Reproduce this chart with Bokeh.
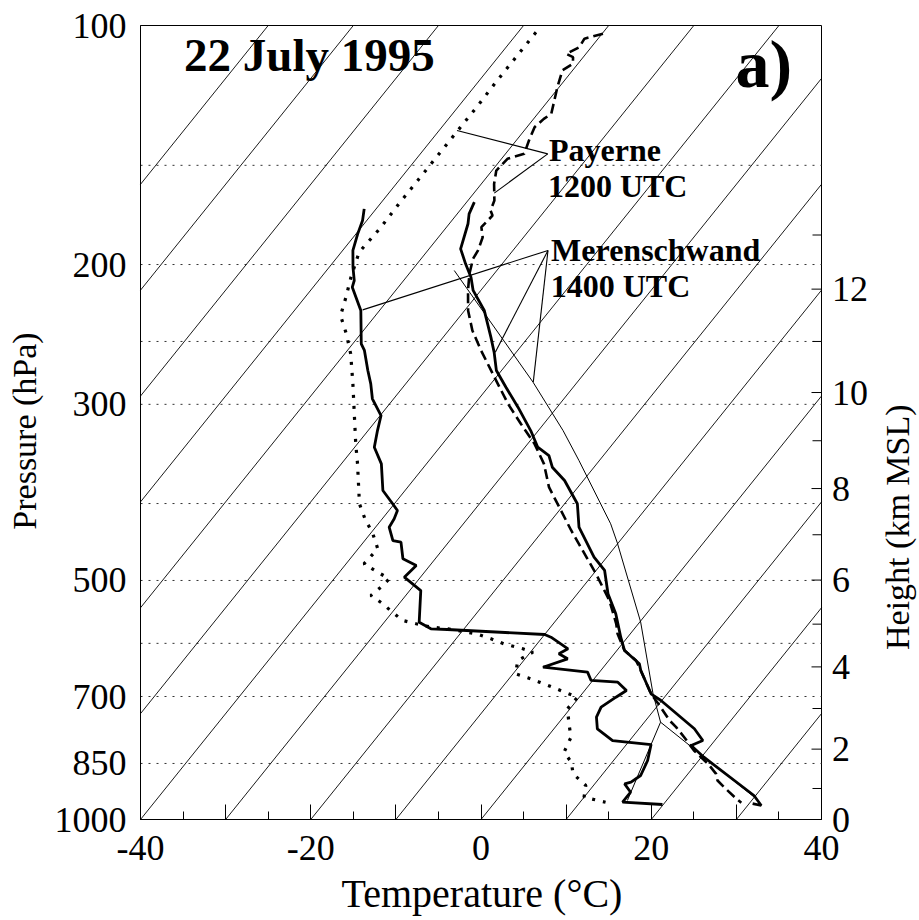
import math
import numpy as np
from bokeh.plotting import figure
from bokeh.models import Range1d, FixedTicker, PrintfTickFormatter, Label
from bokeh.core.properties import value
from bokeh.embed import file_html
from bokeh.resources import INLINE

# ---------------- data (pressure hPa, temperature degC) ----------------
# Merenschwand 1400 UTC temperature (solid)
mer_t_p = [166.9, 172.7, 177.7, 191.1, 199.6, 207.5, 215.6, 228.5, 246.9, 257.9, 272.0, 285.5,
           302.5, 323.7, 339.7, 348.0, 360.0, 374.2, 400.3, 428.4, 467.3, 485.7, 519.7, 550.7,
           589.4, 612.6, 636.7, 649.2, 694.5, 708.1, 768.7, 795.3, 806.9, 834.7, 932.8, 960.2, 954.7]
mer_t = [-59.1, -58.6, -57.8, -56.3, -54.3, -52.4, -50.9, -47.7, -44.4, -42.6, -40.6, -37.9,
         -34.6, -30.9, -28.5, -26.4, -24.9, -22.2, -18.5, -16.1, -11.5, -9.0, -6.4, -3.6,
         -0.8, 0.9, 3.9, 4.7, 8.1, 9.9, 16.5, 18.6, 17.7, 20.3, 29.8, 31.6, 30.4]

# Merenschwand 1400 UTC dew point (solid)
mer_td_p = [170.2, 176.0, 183.0, 192.0, 201.6, 209.5, 213.6, 228.5, 251.7, 256.6, 272.0, 282.7,
            295.2, 309.9, 323.7, 339.7, 356.5, 385.2, 400.3, 408.2, 418.1, 428.4, 445.3, 447.4,
            469.5, 478.7, 495.2, 514.8, 564.3, 575.2, 576.4, 584.8, 589.4, 609.6, 618.5, 627.5,
            643.0, 652.3, 668.2, 671.5, 687.9, 701.4, 722.0, 743.3, 768.7, 795.3, 804.6, 842.7,
            880.2, 897.5, 901.7, 923.9, 951.1, 957.4]
mer_td = [-71.4, -70.5, -69.8, -68.8, -67.2, -65.8, -65.4, -62.2, -59.0, -58.0, -55.7, -54.1,
          -52.5, -49.9, -48.9, -47.7, -45.3, -42.6, -40.2, -39.0, -38.6, -38.4, -36.7, -35.6,
          -33.8, -31.6, -31.9, -28.7, -25.9, -23.9, -21.9, -10.0, -9.0, -5.9, -6.5, -5.0,
          -7.1, -1.4, -0.2, 3.1, 4.9, 4.3, 3.5, 3.9, 5.1, 8.0, 12.9, 14.0,
          14.6, 14.1, 13.5, 15.0, 15.0, 19.9]

# Payerne 1200 UTC temperature (dashed)
pay_t_p = [102.4, 103.9, 106.5, 108.6, 109.6, 111.7, 113.9, 119.6, 124.3, 129.2, 131.1, 134.3,
           139.6, 145.1, 147.2, 152.3, 158.3, 166.1, 171.0, 173.5, 179.5, 184.8, 192.0, 196.7,
           205.5, 215.6, 228.5, 242.2, 256.6, 277.3, 299.5, 317.4, 336.4, 356.5, 381.5, 404.3,
           432.5, 454.0, 490.4, 529.9, 566.9, 583.6, 612.6, 630.6, 649.2, 694.5, 718.5, 750.4,
           765.1, 787.7, 818.6, 850.8, 875.9, 893.1, 910.6, 937.4, 952.7]
pay_t = [-59.9, -61.6, -61.4, -62.3, -61.2, -60.6, -61.2, -60.2, -59.3, -58.4, -58.8, -59.1,
         -58.5, -57.8, -59.3, -59.5, -58.5, -56.9, -56.4, -55.7, -55.9, -54.8, -54.1, -53.9,
         -52.9, -51.5, -49.6, -47.2, -44.3, -40.2, -36.1, -32.7, -29.2, -26.2, -23.4, -20.3,
         -16.7, -14.0, -9.7, -5.6, -2.6, -1.5, 0.9, 3.2, 4.7, 8.1, 10.2, 12.8,
         14.2, 16.1, 18.5, 21.4, 23.3, 24.1, 25.5, 27.7, 29.0]

# Payerne 1200 UTC dew point (dotted)
pay_td_p = [102.0, 109.6, 117.9, 126.1, 135.6, 145.8, 156.7, 167.7, 180.3, 193.0, 207.5, 219.9,
            231.9, 244.5, 259.1, 282.7, 308.4, 336.4, 356.5, 400.3, 420.2, 434.7, 456.1, 476.4,
            488.1, 497.6, 509.8, 522.2, 535.0, 548.1, 561.5, 566.9, 572.5, 575.2, 583.6, 592.1,
            600.8, 609.6, 615.6, 630.6, 655.4, 663.0, 671.5, 681.4, 691.3, 701.4, 725.4, 757.7,
            787.7, 822.7, 846.9, 875.9, 906.1, 937.4, 951.1]
pay_td = [-67.9, -67.9, -67.9, -67.8, -67.8, -67.8, -67.8, -67.8, -67.7, -67.9, -66.5, -65.2,
          -64.1, -61.7, -59.3, -56.2, -53.2, -50.2, -48.1, -44.1, -41.8, -39.9, -37.7, -37.9,
          -35.5, -33.5, -33.7, -34.1, -31.9, -30.0, -28.0, -26.1, -24.0, -21.9, -18.1, -15.9,
          -13.9, -11.2, -9.7, -10.7, -9.7, -7.9, -6.1, -4.1, -2.2, -0.2, -0.3, 1.3,
          2.8, 3.4, 5.2, 6.5, 9.1, 10.0, 13.0]

# Lifted parcel (thin): moist adiabat above LCL, dry adiabat below
parcel_p = [203.5, 281.3, 323.7, 353.1, 424.2, 448.5, 564.0, 693.9, 754.1, 946.4]
parcel_t = [-55.0, -35.2, -27.1, -22.4, -12.7, -10.1, 0.1, 8.3, 11.9, 30.8]
# mixing-ratio line from surface dew point to LCL
mix_p = [754.1, 946.4]
mix_t = [11.9, 15.4]

# isotherms (deg C) of the skew-T background
isotherms = list(range(-100, 40, 10))

# axes
T_MIN, T_MAX = -40, 40
P_BOTTOM, P_TOP = 1000, 100
x_major = [-40, -30, -20, -10, 0, 10, 20, 30, 40]
x_minor = [-35, -25, -15, -5, 5, 15, 25, 35]
x_labelled = [-40, -20, 0, 20, 40]
p_labels = [100, 200, 300, 500, 700, 850, 1000]
p_grid = [150, 200, 250, 300, 400, 500, 600, 700, 850]
height_km = [0, 1, 2, 3, 4, 5, 6, 7, 8, 9, 10, 11, 12, 13]
height_p = [1000.0, 914.0, 815.4, 724.8, 642.4, 567.5, 499.4, 437.9, 383.0, 333.4, 289.9, 250.0, 214.8, 183.6]

SKEW = 75.0  # deg C of horizontal shift per decade of pressure


def skew_x(t, pr):
    return np.asarray(t, dtype=float) + SKEW * (3.0 - np.log10(np.asarray(pr, dtype=float)))


FONT = "Liberation Serif"
TICK_SIZE = "36px"

# ---------------- layout: the frame covers the whole canvas ----------------
CANVAS_W, CANVAS_H = 919, 918
PLOT_W, PLOT_H = 681, 794          # diagram box in pixels
LEFT, TOP = 140, 25                # diagram box offset in the canvas
PX_PER_DEG = PLOT_W / (T_MAX - T_MIN)
PX_PER_DECADE = PLOT_H / math.log10(P_BOTTOM / P_TOP)
x_lo = T_MIN - LEFT / PX_PER_DEG
x_hi = T_MIN + (CANVAS_W - LEFT) / PX_PER_DEG
p_hi_edge = P_TOP / 10 ** (TOP / PX_PER_DECADE)
p_lo_edge = P_TOP * 10 ** ((CANVAS_H - TOP) / PX_PER_DECADE)


def px_x(px):
    """canvas pixel column -> skewed-x coordinate (for placing annotations)"""
    return T_MIN + (px - LEFT) / PX_PER_DEG


def px_p(py):
    """canvas pixel row -> pressure (for placing annotations)"""
    return P_TOP * 10 ** ((py - TOP) / PX_PER_DECADE)


p = figure(frame_width=CANVAS_W, frame_height=CANVAS_H, y_axis_type="log",
           x_range=Range1d(x_lo, x_hi), y_range=Range1d(p_lo_edge, p_hi_edge),
           output_backend="svg", toolbar_location=None, title=None, min_border=0,
           background_fill_color="white", border_fill_color="white")
p.outline_line_color = None
p.xgrid.visible = False
p.ygrid.visible = False

# x axis pinned to the 1000 hPa line
xa = p.xaxis[0]
xa.fixed_location = P_BOTTOM
xa.bounds = (T_MIN, T_MAX)
xa.ticker = FixedTicker(ticks=x_major, minor_ticks=x_minor)
xa.formatter = PrintfTickFormatter(format="%d")
xa.major_label_overrides = {t: "" for t in x_major if t not in x_labelled}
xa.major_tick_in = 15
xa.major_tick_out = 0
xa.minor_tick_in = 8
xa.minor_tick_out = 0
xa.major_label_text_font = FONT
xa.major_label_text_font_size = TICK_SIZE
xa.major_label_text_color = "black"
xa.major_label_standoff = 16
xa.axis_line_color = "black"
xa.major_tick_line_color = "black"
xa.minor_tick_line_color = "black"

# left pressure axis pinned to the -40 edge
ya = p.yaxis[0]
ya.fixed_location = T_MIN
ya.bounds = (P_TOP, P_BOTTOM)
ya.ticker = FixedTicker(ticks=p_labels, minor_ticks=[])
ya.formatter = PrintfTickFormatter(format="%d")
ya.major_tick_in = 0
ya.major_tick_out = 0
ya.minor_tick_in = 0
ya.minor_tick_out = 0
ya.major_label_text_font = FONT
ya.major_label_text_font_size = TICK_SIZE
ya.major_label_text_color = "black"
ya.major_label_standoff = 14
ya.axis_line_color = "black"

# diagram box
p.quad(left=[T_MIN], right=[T_MAX], top=[P_TOP], bottom=[P_BOTTOM],
       fill_color=None, line_color="black", line_width=1)

# dotted pressure grid lines
p.segment(x0=[T_MIN] * len(p_grid), x1=[T_MAX] * len(p_grid), y0=p_grid, y1=p_grid,
          line_color="#333333", line_dash="2 6", line_width=1)

# isotherms, clipped to the diagram box
iso_xs, iso_ys = [], []
for t in isotherms:
    x_top = t + SKEW * math.log10(P_BOTTOM / P_TOP)
    x_start = max(t, T_MIN)
    p_start = P_BOTTOM / 10 ** ((x_start - t) / SKEW)
    if x_top <= T_MAX:
        x_end, p_end = x_top, P_TOP
    else:
        x_end, p_end = T_MAX, P_BOTTOM / 10 ** ((T_MAX - t) / SKEW)
    if p_start > P_TOP:
        iso_xs.append([x_start, x_end])
        iso_ys.append([p_start, p_end])
p.multi_line(xs=iso_xs, ys=iso_ys, line_color="black", line_width=0.9)

# right height axis (km MSL), on the right edge of the diagram box
h_even = [(hk, hp) for hk, hp in zip(height_km, height_p) if hk % 2 == 0]
h_odd = [(hk, hp) for hk, hp in zip(height_km, height_p) if hk % 2 == 1]
p.segment(x0=[T_MAX] * len(h_even), x1=[T_MAX - 10 / PX_PER_DEG] * len(h_even),
          y0=[hp for hk, hp in h_even], y1=[hp for hk, hp in h_even], line_color="black", line_width=1)
p.segment(x0=[T_MAX] * len(h_odd), x1=[T_MAX - 9 / PX_PER_DEG] * len(h_odd),
          y0=[hp for hk, hp in h_odd], y1=[hp for hk, hp in h_odd], line_color="black", line_width=1)
p.text(x=[T_MAX + 10.5 / PX_PER_DEG] * len(h_even), y=[hp for hk, hp in h_even],
       text=[str(hk) for hk, hp in h_even], text_font=value(FONT), text_font_size=TICK_SIZE,
       text_align="left", text_baseline="middle", text_color="black")

# parcel curves (thin)
p.line(skew_x(parcel_t, parcel_p), parcel_p, line_color="black", line_width=1)
p.line(skew_x(mix_t, mix_p), mix_p, line_color="black", line_width=1)

# soundings
p.line(skew_x(pay_td, pay_td_p), pay_td_p, line_color="black", line_width=3.2, line_dash="3 8")
p.line(skew_x(pay_t, pay_t_p), pay_t_p, line_color="black", line_width=2.6, line_dash="10 5")
p.line(skew_x(mer_td, mer_td_p), mer_td_p, line_color="black", line_width=2.8)
p.line(skew_x(mer_t, mer_t_p), mer_t_p, line_color="black", line_width=2.8)

# leader lines (annotation anchors in skewed-x / pressure coordinates)
pay_anchor = (7.84, 145.1)
mer_anchor = (7.87, 192.0)
pay_ends = [(-2.82, 135.6), (1.56, 162.6)]
mer_ends = [(-13.90, 228.1), (1.68, 257.9), (6.14, 281.3)]
segs = [(pay_anchor, e) for e in pay_ends] + [(mer_anchor, e) for e in mer_ends]
p.segment(x0=[a[0] for a, e in segs], y0=[a[1] for a, e in segs],
          x1=[e[0] for a, e in segs], y1=[e[1] for a, e in segs],
          line_color="black", line_width=1.1)


def add_text(px, py, txt, size, bold=True, align="left", angle=0.0):
    """px, py: canvas position of the text box centre line (vertical middle)"""
    p.add_layout(Label(x=px_x(px), y=px_p(py), text=txt, text_font=FONT,
                       text_font_size=f"{size}px",
                       text_font_style="bold" if bold else "normal", angle=angle,
                       text_align=align, text_baseline="middle", text_color="black"))


def mid(baseline, size):
    return baseline - 0.3375 * size


add_text(183.5, mid(70, 47), "22 July 1995", 47)
add_text(735.0, mid(86.7, 68), "a)", 68)
add_text(548.5, mid(160.7, 32), "Payerne", 32)
add_text(547.4, mid(196.7, 32), "1200 UTC", 32)
add_text(550.6, mid(260.0, 32), "Merenschwand", 32)
add_text(550.2, mid(296.0, 32), "1400 UTC", 32)

# axis titles
add_text(481.5, mid(906, 40), "Temperature (°C)", 40, bold=False, align="center")
add_text(mid(35, 34), 430.5, "Pressure (hPa)", 34, bold=False, align="center", angle=math.pi / 2)
add_text(mid(908, 34), 526.7, "Height (km MSL)", 34, bold=False, align="center", angle=math.pi / 2)

open("out.html", "w").write(file_html(p, INLINE))
